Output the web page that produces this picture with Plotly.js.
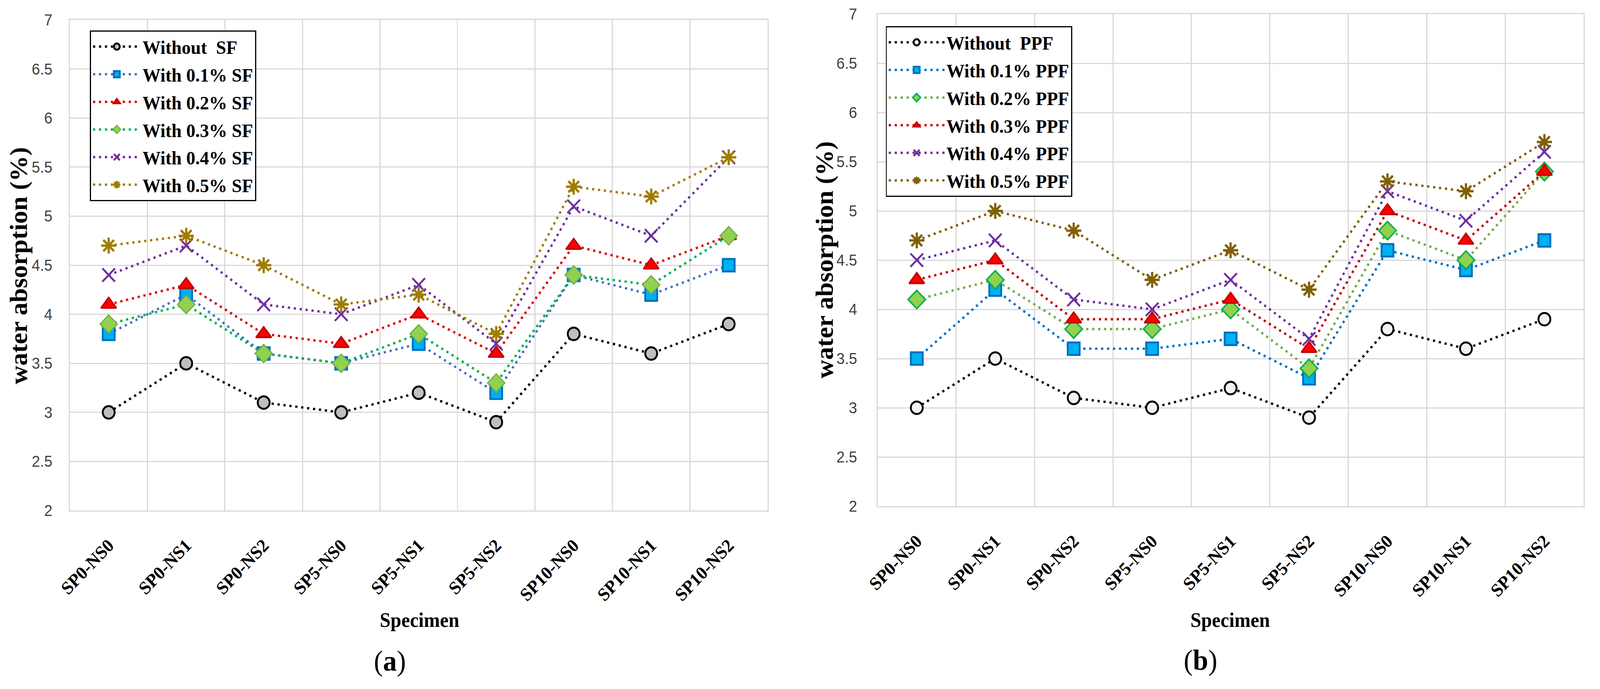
<!DOCTYPE html>
<html>
<head>
<meta charset="utf-8">
<script src="https://cdn.plot.ly/plotly-3.0.1.min.js"></script>
<style>
html,body{margin:0;padding:0;background:#fff;overflow:hidden;}
#wrap{position:absolute;left:0;top:0;width:4301px;height:1764px;transform-origin:0 0;}
#chart{width:4301px;height:1764px;}
</style>
</head>
<body>
<div id="wrap"><div id="chart"></div></div>
<script>
// ---------- data ----------
const specimens = ["SP0-NS0","SP0-NS1","SP0-NS2","SP5-NS0","SP5-NS1","SP5-NS2","SP10-NS0","SP10-NS1","SP10-NS2"];

// (a) steel fibre
const sfNames = ["Without  SF","With 0.1% SF","With 0.2% SF","With 0.3% SF","With 0.4% SF","With 0.5% SF"];
const sf0  = [3.0, 3.5, 3.1, 3.0, 3.2, 2.9, 3.8, 3.6, 3.9];
const sf01 = [3.8, 4.2, 3.6, 3.5, 3.7, 3.2, 4.4, 4.2, 4.5];
const sf02 = [4.1, 4.3, 3.8, 3.7, 4.0, 3.6, 4.7, 4.5, 4.8];
const sf03 = [3.9, 4.1, 3.6, 3.5, 3.8, 3.3, 4.4, 4.3, 4.8];
const sf04 = [4.4, 4.7, 4.1, 4.0, 4.3, 3.7, 5.1, 4.8, 5.6];
const sf05 = [4.7, 4.8, 4.5, 4.1, 4.2, 3.8, 5.3, 5.2, 5.6];

// (b) polypropylene fibre
const ppfNames = ["Without  PPF","With 0.1% PPF","With 0.2% PPF","With 0.3% PPF","With 0.4% PPF","With 0.5% PPF"];
const ppf0  = [3.0, 3.5, 3.1, 3.0, 3.2, 2.9, 3.8, 3.6, 3.9];
const ppf01 = [3.5, 4.2, 3.6, 3.6, 3.7, 3.3, 4.6, 4.4, 4.7];
const ppf02 = [4.1, 4.3, 3.8, 3.8, 4.0, 3.4, 4.8, 4.5, 5.4];
const ppf03 = [4.3, 4.5, 3.9, 3.9, 4.1, 3.6, 5.0, 4.7, 5.4];
const ppf04 = [4.5, 4.7, 4.1, 4.0, 4.3, 3.7, 5.2, 4.9, 5.6];
const ppf05 = [4.7, 5.0, 4.8, 4.3, 4.6, 4.2, 5.3, 5.2, 5.7];

// ---------- styles ----------
const DASH = "6px,10px";
const LW = 6;
function tr(name, y, xa, ya, leg, lineColor, sym, fill, outline, olw, size, grp) {
  return {
    type: "scatter", mode: "lines+markers", name: name,
    x: specimens, y: y, xaxis: xa, yaxis: ya, legend: leg, legendgroup: grp,
    line: {color: lineColor, width: LW, dash: DASH},
    marker: {symbol: sym, size: size, color: fill, line: {color: outline, width: olw}},
    cliponaxis: false
  };
}

const traces = [
  tr(sfNames[0], sf0,  "x", "y", "legend", "#000000", "circle", "#bfbfbf", "#000000", 5, 32, "a0"),
  tr(sfNames[1], sf01, "x", "y", "legend", "#4472c4", "square", "#00b0f0", "#0070c0", 5, 32, "a1"),
  tr(sfNames[2], sf02, "x", "y", "legend", "#e00000", "triangle-up", "#ff0000", "#c00000", 4, 36, "a2"),
  tr(sfNames[3], sf03, "x", "y", "legend", "#00b050", "diamond", "#92d050", "#70ad47", 3, 36, "a3"),
  tr(sfNames[4], sf04, "x", "y", "legend", "#7030a0", "x-thin-open", "#7030a0", "#7030a0", 5, 34, "a4"),
  tr(sfNames[5], sf05, "x", "y", "legend", "#a07c00", "asterisk-open", "#a07c00", "#9c7800", 6, 34, "a5"),

  tr(ppfNames[0], ppf0,  "x2", "y2", "legend2", "#000000", "circle", "#f2f2f2", "#000000", 5, 32, "b0"),
  tr(ppfNames[1], ppf01, "x2", "y2", "legend2", "#0070c0", "square", "#00b0f0", "#0070c0", 5, 32, "b1"),
  tr(ppfNames[2], ppf02, "x2", "y2", "legend2", "#70ad47", "diamond", "#92d050", "#00b050", 4, 36, "b2"),
  tr(ppfNames[3], ppf03, "x2", "y2", "legend2", "#c00000", "triangle-up", "#ff0000", "#c00000", 4, 36, "b3"),
  tr(ppfNames[4], ppf04, "x2", "y2", "legend2", "#7030a0", "x-thin-open", "#7030a0", "#7030a0", 5, 34, "b4"),
  tr(ppfNames[5], ppf05, "x2", "y2", "legend2", "#7f6000", "asterisk-open", "#7f6000", "#7f6000", 6, 34, "b5")
];

const W = 4301, H = 1764;
const GRID = "#d9d9d9";
const serif = "Liberation Serif, Times New Roman, serif";
const narrow = "Liberation Sans Narrow, Arial Narrow, Liberation Sans, sans-serif";

function xax(domain, anchor) {
  return {
    domain: domain, anchor: anchor, type: "category", range: [-0.5, 8.5],
    tickson: "boundaries", ticks: "", showgrid: true, gridcolor: GRID, gridwidth: 3,
    showline: true, linecolor: GRID, linewidth: 3, mirror: true, zeroline: false,
    tickangle: -45, ticklabelstandoff: 40,
    tickfont: {family: serif, size: 47, color: "#000000", weight: "bold"},
    automargin: false
  };
}
function yax(domain, anchor, standoff) {
  return {
    domain: domain, anchor: anchor, range: [2, 7], dtick: 0.5, tick0: 2,
    ticks: "", showgrid: true, gridcolor: GRID, gridwidth: 3,
    showline: true, linecolor: GRID, linewidth: 3, mirror: true, zeroline: false,
    ticklabelstandoff: standoff,
    tickfont: {family: narrow, size: 40, color: "#404040"},
    automargin: false
  };
}

function px(x) { return x / W; }
function py(y) { return 1 - y / H; }

const legendFont = {family: serif, size: 49, color: "#000000", weight: "bold"};

const layout = {
  width: W, height: H,
  paper_bgcolor: "#ffffff", plot_bgcolor: "#ffffff",
  margin: {l: 0, r: 0, t: 0, b: 0},
  showlegend: true,
  xaxis:  xax([px(188), px(2063)], "y"),
  yaxis:  yax([py(1307), py(51)], "x", 36),
  xaxis2: xax([px(2359), px(4257)], "y2"),
  yaxis2: yax([py(1296), py(36)], "x2", 44),
  legend: {
    x: px(242), y: py(78), xanchor: "left", yanchor: "top",
    bgcolor: "#ffffff", bordercolor: "#000000", borderwidth: 3,
    font: legendFont, tracegroupgap: 4, itemwidth: 128
  },
  legend2: {
    x: px(2381), y: py(67), xanchor: "left", yanchor: "top",
    bgcolor: "#ffffff", bordercolor: "#000000", borderwidth: 3,
    font: legendFont, tracegroupgap: 4, itemwidth: 150
  },
  annotations: [
    {text: "water absorption (%)", x: px(50), y: py(681), xref: "paper", yref: "paper",
     textangle: -90, showarrow: false, xanchor: "center", yanchor: "middle",
     font: {family: serif, size: 66, color: "#000000", weight: "bold"}},
    {text: "water absorption (%)", x: px(2217), y: py(666), xref: "paper", yref: "paper",
     textangle: -90, showarrow: false, xanchor: "center", yanchor: "middle",
     font: {family: serif, size: 66, color: "#000000", weight: "bold"}},
    {text: "Specimen", x: px(1128), y: py(1587), xref: "paper", yref: "paper",
     showarrow: false, xanchor: "center", yanchor: "middle",
     font: {family: serif, size: 52, color: "#000000", weight: "bold"}},
    {text: "Specimen", x: px(3307), y: py(1587), xref: "paper", yref: "paper",
     showarrow: false, xanchor: "center", yanchor: "middle",
     font: {family: serif, size: 52, color: "#000000", weight: "bold"}},
    {text: "(<b>a</b>)", x: px(1048), y: py(1692), xref: "paper", yref: "paper",
     showarrow: false, xanchor: "center", yanchor: "middle",
     font: {family: serif, size: 74, color: "#000000"}},
    {text: "(<b>b</b>)", x: px(3227), y: py(1690), xref: "paper", yref: "paper",
     showarrow: false, xanchor: "center", yanchor: "middle",
     font: {family: serif, size: 74, color: "#000000"}}
  ]
};

// fit the 4301x1764 drawing into whatever viewport the browser really has
function fit() {
  const vw = window.innerWidth || W, vh = window.innerHeight || H;
  document.getElementById("wrap").style.transform = "scale(" + (vw / W) + "," + (vh / H) + ")";
}
fit();
Plotly.newPlot("chart", traces, layout, {displayModeBar: false, staticPlot: true});
</script>
</body>
</html>
